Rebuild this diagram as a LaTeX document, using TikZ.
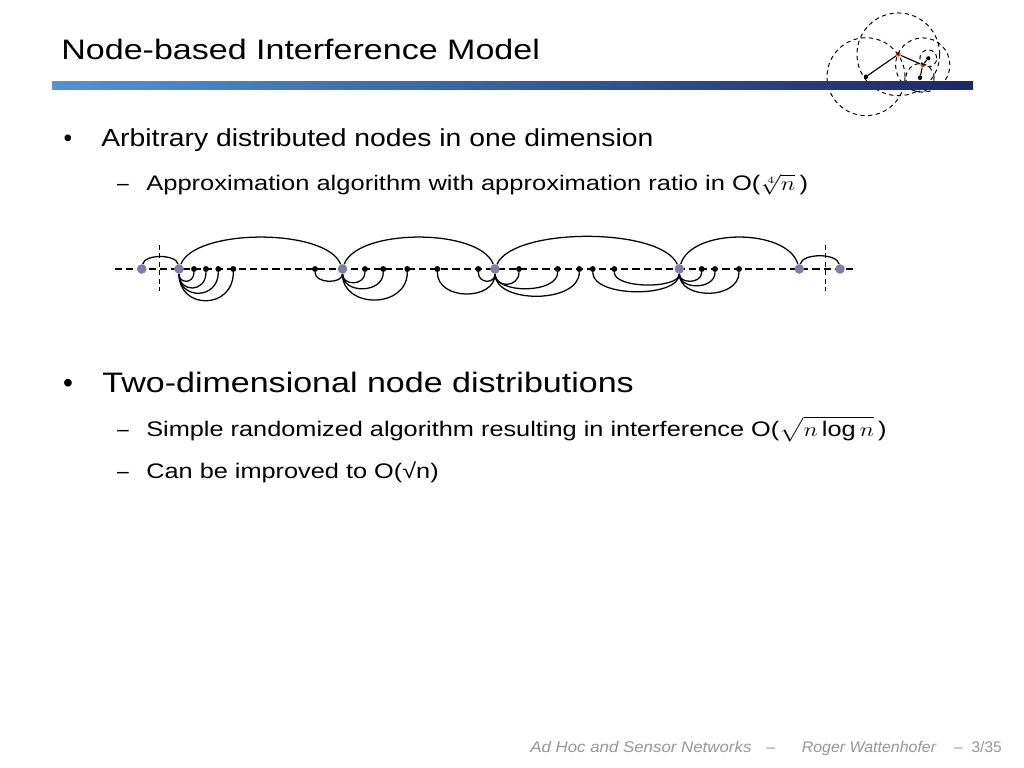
\documentclass[tikz,border=0pt]{standalone}
\usepackage{amsmath}
\usepackage{fontspec}
\setmainfont{Liberation Sans}
\usetikzlibrary{positioning}

\definecolor{nodegray}{RGB}{122,128,170}
\definecolor{barlight}{RGB}{80,148,214}
\definecolor{bardark}{RGB}{28,40,104}
\definecolor{nodered}{RGB}{228,72,30}
\definecolor{footgray}{RGB}{150,150,150}

\begin{document}
\begin{tikzpicture}[x=0.025cm, y=-0.025cm,
  gnode/.style={circle, fill=nodegray, inner sep=0pt, minimum size=6.8pt},
  bnode/.style={circle, fill=black, inner sep=0pt, minimum size=4.2pt},
  rnode/.style={circle, fill=nodered, inner sep=0pt, minimum size=3.4pt},
  sdot/.style={circle, fill=black, inner sep=0pt, minimum size=3pt},
  dashline/.style={line width=0.9pt, dash pattern=on 5pt off 3pt},
  cutline/.style={line width=0.9pt, dash pattern=on 3.5pt off 2.5pt},
  arcline/.style={line width=0.9pt},
  reach/.style={line width=0.7pt, dash pattern=on 3pt off 2.5pt},
  txt/.style={anchor=base west, inner sep=0pt, transform shape},
  sym/.style={anchor=base, inner sep=0pt},
  wide/.style={xscale=#1}
]
  \fill[white] (0,0) rectangle (1024,768);
  \useasboundingbox (0,0) rectangle (1024,768);

  % logo in the corner
  \node[sdot]  (ta) at (866,76.7) {};
  \node[rnode] (tb) at (898.3,54.3) {};
  \node[rnode] (tc) at (922.7,65) {};
  \node[sdot]  (td) at (928.3,58.3) {};
  \node[sdot]  (te) at (920,77.7) {};
  \draw[reach] (ta) circle[radius=27.7pt];
  \draw[reach] (tb) circle[radius=29.4pt];
  \draw[reach] (tc) circle[radius=19.3pt];
  \draw[reach] (td) circle[radius=6pt];
  \draw[reach] (te) circle[radius=10pt];

  % title and bar
  \node[txt, wide=1.21, font=\fontsize{20}{24}\selectfont] (title) at (61,60) {Node-based Interference Model};
  \shade[left color=barlight, right color=bardark] (52,81.5) rectangle (973,89.5);
  \draw[line width=0.8pt] (ta) -- (tb) -- (tc) -- (td);
  \draw[line width=0.8pt] (tc) -- (te);
  \node[sdot] at (ta) {};
  \node[sdot] at (te) {};

  % first bullet
  \node[sym, font=\fontsize{17.5}{21}\selectfont] (bul1) at (68,146.5) {•};
  \node[txt, wide=1.15, font=\fontsize{17.5}{21}\selectfont] (item1) at (101,146.5) {Arbitrary distributed nodes in one dimension};
  \node[sym, font=\fontsize{15}{18}\selectfont] (dash1) at (123,190) {–};
  \node[txt, wide=1.21, font=\fontsize{15}{18}\selectfont] (sub1) at (146,190) {Approximation algorithm with approximation ratio in O($\sqrt[4]{n}$\,)};

  % one-dimensional example
  \coordinate (axl) at (115,269);
  \coordinate (axr) at (856,269);
  \draw[dashline] (axl) -- (axr);
  \coordinate (cutlt) at (159.3,245);
  \coordinate (cutlb) at (159.3,291);
  \coordinate (cutrt) at (825.7,245);
  \coordinate (cutrb) at (825.7,291);
  \draw[cutline] (cutlt) -- (cutlb);
  \draw[cutline] (cutrt) -- (cutrb);

  \foreach \n/\x in {ga/141.7, gb/179, gc/342.5, gd/495, ge/679.3, gf/799.3, gg/840}
    \node[gnode] (\n) at (\x,269) {};
  \foreach \n/\x in {b1/194, b2/206, b3/218.3, b4/233.3, b5/315, b6/365, b7/383.3,
                     b8/407.3, b9/437.3, b10/478.3, b11/519, b12/557.7, b13/579.3,
                     b14/592.7, b15/614.3, b16/701.7, b17/715, b18/739}
    \node[bnode] (\n) at (\x,269) {};

  % links above the line
  \foreach \a/\b/\d/\h in {ga/gb/3/-15, gb/gc/16/-41, gc/gd/15/-41, gd/ge/18/-42, ge/gf/12/-41, gf/gg/3/-16}
    \draw[arcline] (\a) .. controls +(\d,\h) and +(-\d,\h) .. (\b);
  % links below the line
  \foreach \a/\b/\h in {gb/b1/15, gb/b2/24, gb/b3/31, gb/b4/41, b5/gc/15, gc/b6/17,
                        gc/b7/25, gc/b8/40, b9/gd/32, b10/gd/15, gd/b11/19, gd/b12/25,
                        gd/b13/35, b14/ge/29, b15/ge/20, ge/b16/15, ge/b17/21, ge/b18/31}
    \draw[arcline] (\a) .. controls +(0,\h) and +(0,\h) .. (\b);

  % second bullet
  \node[sym, font=\fontsize{20}{24}\selectfont] (bul2) at (68,392) {•};
  \node[txt, wide=1.21, font=\fontsize{20}{24}\selectfont] (item2) at (102,392) {Two-dimensional node distributions};
  \node[sym, font=\fontsize{15}{18}\selectfont] (dash2) at (123,436) {–};
  \node[txt, wide=1.2, font=\fontsize{15}{18}\selectfont] (sub2) at (146,436) {Simple randomized algorithm resulting in interference O($\sqrt{n\log n}$\,)};
  \node[sym, font=\fontsize{15}{18}\selectfont] (dash3) at (123,478) {–};
  \node[txt, wide=1.2, font=\fontsize{15}{18}\selectfont] (sub3) at (146,478) {Can be improved to O(√n)};

  % footer
  \node[txt, wide=1.09, font=\fontsize{11}{13}\selectfont\itshape, text=footgray] (foot1) at (530,752) {Ad Hoc and Sensor Networks};
  \node[sym, font=\fontsize{11}{13}\selectfont, text=footgray] (fdash1) at (771,752) {–};
  \node[txt, wide=1.03, font=\fontsize{11}{13}\selectfont\itshape, text=footgray] (foot2) at (801.5,752) {Roger Wattenhofer};
  \node[sym, font=\fontsize{11}{13}\selectfont, text=footgray] (fdash2) at (958.5,752) {–};
  \node[anchor=base east, inner sep=0pt, font=\fontsize{11}{13}\selectfont, text=footgray] (page) at (1002,752) {3/35};
\end{tikzpicture}
\end{document}
